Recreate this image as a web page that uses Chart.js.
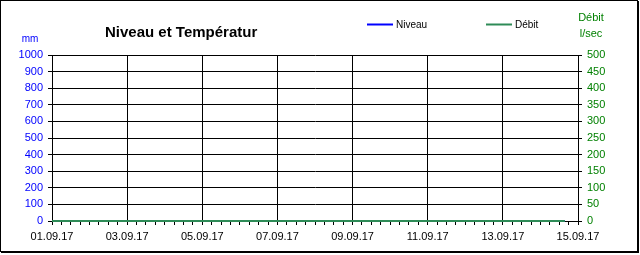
<!DOCTYPE html>
<html>
<head>
<meta charset="utf-8">
<script src="https://cdn.jsdelivr.net/npm/chart.js@4/dist/chart.umd.min.js"></script>
<style>
html,body{margin:0;padding:0;background:#fff;}
#wrap{width:640px;height:255px;position:relative;}
</style>
</head>
<body>
<div id="wrap"><canvas id="c" width="640" height="255"></canvas></div>
<script>
// Data (days since 01.09.17)
const dateLabels = ["01.09.17","03.09.17","05.09.17","07.09.17","09.09.17","11.09.17","13.09.17","15.09.17"];
const sampleDays = [0,1,2,3,4,5,6,7,8,9,10,11,12,13,13.65];
const niveauValues = [0,0,0,0,0,0,0,0,0,0,0,0,0,0,0];
const debitValues  = [0,0,0,0,0,0,0,0,0,0,0,0,0,0,0];
const titleText = "Niveau et Températur";
const seriesNames = ["Niveau","Débit"];

const BLUE = "#0000ff";
const GREEN = "#2e8b57";
const TXTGREEN = "#008000";
const FONT = "'Liberation Sans', Arial, sans-serif";

const decor = {
  id: 'decor',
  afterDraw(chart) {
    const ctx = chart.ctx;
    ctx.save();
    // outer frame
    ctx.strokeStyle = '#000';
    ctx.lineWidth = 1;
    ctx.strokeRect(0.5, 0.5, 637, 251);
    ctx.fillStyle = '#000';
    ctx.fillRect(637, 1, 2, 252);
    ctx.fillRect(1, 251, 638, 2);
    // title
    ctx.font = "bold 15px " + FONT;
    ctx.textAlign = 'left';
    ctx.textBaseline = 'alphabetic';
    ctx.fillText(titleText, 105, 37);
    // axis titles
    ctx.font = "10px " + FONT;
    ctx.fillStyle = BLUE;
    ctx.textAlign = 'center';
    ctx.fillText("mm", 30, 42);
    ctx.fillStyle = TXTGREEN;
    ctx.font = "11px " + FONT;
    ctx.fillText("Débit", 591, 21);
    ctx.fillText("l/sec", 591, 37);
    // legend
    const items = [[seriesNames[0], BLUE, 367], [seriesNames[1], GREEN, 486]];
    ctx.font = "10px " + FONT;
    ctx.textAlign = 'left';
    ctx.textBaseline = 'middle';
    items.forEach(([t, c, x]) => {
      ctx.strokeStyle = c;
      ctx.lineWidth = 2;
      ctx.beginPath();
      ctx.moveTo(x, 24.5);
      ctx.lineTo(x + 26, 24.5);
      ctx.stroke();
      ctx.fillStyle = '#000';
      ctx.fillText(t, x + 29, 25);
    });
    ctx.restore();
  }
};

new Chart(document.getElementById('c'), {
  type: 'line',
  data: {
    datasets: [
      {
        label: seriesNames[0],
        data: sampleDays.map((d, i) => ({x: d, y: niveauValues[i]})),
        borderColor: BLUE, borderWidth: 2, pointRadius: 0, yAxisID: 'y', tension: 0, order: 2, clip: false
      },
      {
        label: seriesNames[1],
        data: sampleDays.map((d, i) => ({x: d, y: debitValues[i]})),
        borderColor: GREEN, borderWidth: 2, pointRadius: 0, yAxisID: 'y1', tension: 0, order: 1, clip: false
      }
    ]
  },
  options: {
    responsive: false,
    animation: false,
    devicePixelRatio: 1,
    layout: { padding: { top: 55, left: 0, right: 0, bottom: 0 } },
    plugins: { legend: { display: false }, title: { display: false }, tooltip: { enabled: false } },
    scales: {
      x: {
        type: 'linear', min: 0, max: 14,
        ticks: {
          stepSize: 0.25, autoSkip: false, maxRotation: 0, minRotation: 0,
          color: '#000', font: { family: FONT, size: 11 }, padding: 5,
          callback: (v) => (Math.abs(v / 2 - Math.round(v / 2)) < 1e-6) ? dateLabels[Math.round(v / 2)] : ''
        },
        grid: {
          color: (c) => (c.tick && Math.abs(c.tick.value / 2 - Math.round(c.tick.value / 2)) < 1e-6) ? '#000' : 'rgba(0,0,0,0)',
          tickColor: '#000', tickLength: 4, lineWidth: 1
        },
        border: { color: '#000', width: 1 },
        afterFit: (s) => { s.height = 34; }
      },
      y: {
        position: 'left', min: 0, max: 1000,
        ticks: { stepSize: 100, color: BLUE, font: { family: FONT, size: 11 }, padding: 5,
                 callback: (v) => String(v) },
        grid: { color: '#000', tickColor: '#000', tickLength: 4, lineWidth: 1 },
        border: { color: '#000', width: 1 },
        afterFit: (s) => { s.width = 52; }
      },
      y1: {
        position: 'right', min: 0, max: 500,
        ticks: { stepSize: 50, color: TXTGREEN, font: { family: FONT, size: 11 }, padding: 5,
                 callback: (v) => String(v) },
        grid: { drawOnChartArea: false, tickColor: '#000', tickLength: 4 },
        border: { color: '#000', width: 1 },
        afterFit: (s) => { s.width = 62; }
      }
    }
  },
  plugins: [decor]
});
</script>
</body>
</html>
